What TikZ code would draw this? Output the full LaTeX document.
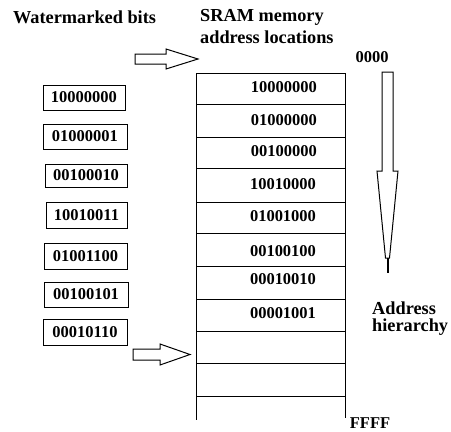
\documentclass[tikz,border=0pt]{standalone}
\usepackage{fontspec}
\setmainfont{Liberation Serif}
\begin{document}
\begin{tikzpicture}[x=1pt,y=-1pt,
  txt/.style={font=\fontsize{16.5}{19}\selectfont\bfseries, inner sep=0pt},
  wtxt/.style={font=\fontsize{18.3}{21}\selectfont\bfseries, inner sep=0pt},
  bitbox/.style={draw, line width=1pt, font=\fontsize{16.5}{19}\selectfont\bfseries, inner sep=0pt, minimum height=25pt},
  tline/.style={line width=1pt},
  hollow/.style={draw, line width=1pt, fill=white, line join=miter}]
\useasboundingbox (0,0) rectangle (451,432);
% titles
\node[wtxt, anchor=west] (t1) at (13,17) {Watermarked bits};
\node[wtxt, anchor=west] (t2) at (200,17) {SRAM memory};
\node[wtxt, anchor=west] (t3) at (200,37) {address locations};
\node[txt] (t0000) at (372,57) {0000};
\node[txt] (tffff) at (370,423) {FFFF};
\node[wtxt, anchor=west] (ah1) at (372,308) {Address};
\node[wtxt, anchor=west] (ah2) at (372,327) {hierarchy};
% left boxes
\node[bitbox, minimum width=82pt] (b1) at (84,97.5) {10000000};
\node[bitbox, minimum width=84pt] (b2) at (85,136.5) {01000001};
\node[bitbox, minimum width=82pt, minimum height=23pt] (b3) at (86,175.5) {00100010};
\node[bitbox, minimum width=81pt, minimum height=26pt] (b4) at (86.5,215) {10010011};
\node[bitbox, minimum width=83pt, minimum height=26pt] (b5) at (85.5,256) {01001100};
\node[bitbox, minimum width=84pt] (b6) at (86,294.5) {00100101};
\node[bitbox, minimum width=84pt, minimum height=26pt] (b7) at (85,332) {00010110};
% table
\coordinate (tl) at (196,73);
\coordinate (tr) at (345,73);
\coordinate (bl) at (196,420);
\coordinate (br) at (345,418);
\draw[tline] (tl) -- (bl);
\draw[tline] (tr) -- (br);
\foreach \y in {73,104,137,168,202,233,266,299,331,363,396} {
  \draw[tline] (196,\y) -- (345,\y);
}
\node[txt] (r1) at (284,87) {10000000};
\node[txt] (r2) at (284,120) {01000000};
\node[txt] (r3) at (284,151) {00100000};
\node[txt] (r4) at (283,184) {10010000};
\node[txt] (r5) at (283,216) {01001000};
\node[txt] (r6) at (283,251) {00100100};
\node[txt] (r7) at (283,279) {00010010};
\node[txt] (r8) at (283,313) {00001001};
% hollow arrows
\draw[hollow] (135,54) -- (166,54) -- (166,49) -- (198,59) -- (166,69) -- (166,64) -- (135,64) -- cycle;
\draw[hollow] (133,349) -- (160,349) -- (160,344) -- (190,354.5) -- (160,365) -- (160,360) -- (133,360) -- cycle;
% down arrow
\draw[hollow] (382,72) -- (393,72) -- (393,171) -- (398,171) -- (389.5,258) -- (385.5,258) -- (377,171) -- (382,171) -- cycle;
\draw[line width=2pt] (387.5,258) -- (387.5,273);
\end{tikzpicture}
\end{document}
